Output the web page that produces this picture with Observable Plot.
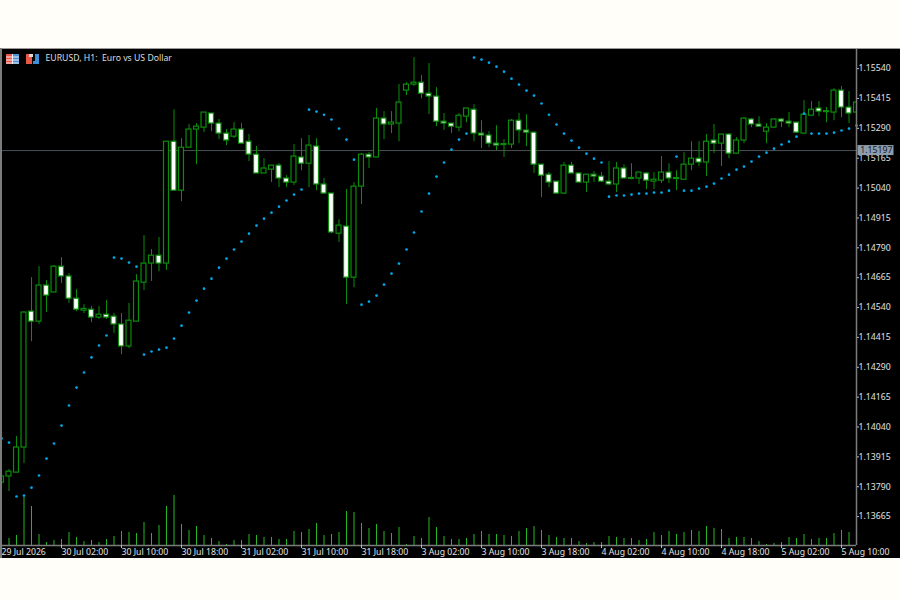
<!DOCTYPE html>
<html>
<head>
<meta charset="utf-8">
<script src="https://cdn.jsdelivr.net/npm/d3@7"></script>
<script src="https://cdn.jsdelivr.net/npm/@observablehq/plot@0.6"></script>
<style>
html,body{margin:0;padding:0;background:#fffef8;}
#wrap{position:absolute;left:0;top:49px;width:900px;height:509px;overflow:hidden;background:#000;}
#wrap svg{display:block;}
.edge{position:absolute;background:#9a9a9a;}
.ic{position:absolute;left:0;top:0;pointer-events:none;}
</style>
</head>
<body>
<div id="wrap"></div>
<div class="edge" style="left:0;top:47.5px;width:900px;height:1.5px"></div>
<div class="edge" style="left:0;top:48px;width:1.5px;height:510px;background:#7c7c7c"></div>
<svg class="ic" width="60" height="70">
  <rect x="6" y="54" width="13" height="10" fill="#e8564a"/><rect x="13" y="54" width="6" height="10" fill="#4a8fd8"/>
  <path d="M6 57h13M6 60h13M6 63h13M12.5 54v10" stroke="#f4eef0" stroke-width="1" fill="none"/>
  <rect x="26" y="54" width="6" height="10" fill="#e8564a"/><rect x="33" y="54" width="6" height="10" fill="#3f8fd8"/>
  <rect x="29" y="54" width="6" height="3" fill="#d9d9d9"/><rect x="33" y="54" width="2" height="7" fill="#000"/>
</svg>
<script>
const tickIndex = [0,8,16,24,32,40,48,56,64,72,80,88,96,104,112];
const tickLabels = ["29 Jul 2026","30 Jul 02:00","30 Jul 10:00","30 Jul 18:00","31 Jul 02:00","31 Jul 10:00","31 Jul 18:00","3 Aug 02:00","3 Aug 10:00","3 Aug 18:00","4 Aug 02:00","4 Aug 10:00","4 Aug 18:00","5 Aug 02:00","5 Aug 10:00"];
const priceTicks = [1.15540,1.15415,1.15290,1.15165,1.15040,1.14915,1.14790,1.14665,1.14540,1.14415,1.14290,1.14165,1.14040,1.13915,1.13790,1.13665];
const lastPrice = 1.15197;

// prices in points (0.00001) above 1.13000
const open = [807,833,849,954,1523,1481,1632,1603,1711,1670,1577,1527,1531,1498,1510,1502,1469,1377,1481,1644,1724,1757,1724,2234,2029,2209,2285,2293,2352,2310,2268,2255,2285,2234,2180,2101,2117,2134,2080,2063,2168,2142,2214,2055,2017,1849,1879,1665,2046,2180,2168,2331,2306,2310,2448,2473,2481,2435,2423,2318,2310,2293,2339,2368,2268,2260,2226,2220,2222,2322,2281,2272,2138,2096,2067,2017,2134,2101,2063,2096,2088,2067,2055,2122,2078,2080,2101,2067,2071,2105,2078,2075,2138,2163,2147,2239,2226,2264,2184,2239,2327,2306,2276,2293,2327,2318,2314,2268,2343,2373,2362,2356,2448,2377,2356];
const high = [841,862,1000,1523,1665,1711,1653,1716,1749,1682,1615,1552,1544,1544,1569,1515,1515,1557,1678,1841,1783,1833,2234,2368,2247,2306,2310,2356,2352,2327,2285,2314,2310,2264,2214,2163,2134,2142,2092,2222,2247,2260,2247,2080,2017,1908,2034,2063,2184,2188,2373,2360,2360,2473,2481,2586,2511,2561,2460,2352,2310,2352,2373,2389,2322,2276,2301,2243,2327,2352,2347,2272,2138,2105,2067,2147,2147,2105,2096,2109,2105,2151,2147,2138,2142,2105,2105,2105,2172,2142,2113,2188,2234,2234,2264,2306,2264,2268,2251,2335,2331,2339,2310,2331,2331,2356,2314,2406,2402,2402,2377,2456,2465,2444,2423];
const low = [766,770,849,887,1397,1469,1519,1603,1640,1557,1523,1515,1477,1490,1490,1431,1343,1368,1481,1611,1649,1690,1695,2029,1983,2209,2138,2272,2276,2243,2218,2247,2226,2151,2101,2101,2063,2042,2042,2050,2113,2042,2029,2013,1849,1812,1552,1623,1971,2122,2168,2243,2268,2234,2427,2465,2414,2347,2297,2281,2268,2276,2314,2234,2205,2209,2197,2168,2205,2226,2214,2101,2000,2042,2013,2013,2101,2063,2021,2063,2063,2050,2021,2080,2075,2055,2034,2034,2059,2059,2029,2075,2113,2130,2088,2184,2130,2163,2184,2226,2293,2297,2226,2293,2293,2293,2268,2268,2343,2339,2314,2322,2335,2310,2335];
const close = [833,853,954,1519,1481,1632,1590,1711,1670,1577,1531,1534,1498,1510,1498,1469,1377,1485,1649,1724,1757,1724,2234,2029,2209,2285,2297,2356,2310,2268,2239,2285,2226,2180,2101,2122,2134,2080,2063,2172,2142,2218,2055,2017,1854,1883,1665,2046,2180,2168,2331,2306,2314,2398,2473,2481,2435,2423,2318,2310,2297,2343,2373,2268,2260,2226,2218,2224,2322,2281,2272,2138,2092,2063,2017,2134,2101,2063,2096,2088,2067,2055,2122,2080,2082,2105,2071,2075,2105,2080,2082,2138,2163,2147,2234,2226,2264,2184,2239,2331,2306,2297,2293,2327,2318,2310,2272,2347,2368,2360,2358,2448,2377,2352,2398];
const sar = [992,975,749,753,786,837,908,971,1046,1130,1205,1268,1331,1381,1423,1749,1745,1728,1711,1343,1356,1364,1372,1410,1464,1519,1569,1619,1661,1707,1745,1783,1816,1849,1883,1912,1937,1962,1988,2013,2034,2368,2360,2347,2327,2289,2243,2159,1552,1565,1590,1636,1682,1724,1783,1854,1942,2017,2088,2147,2201,2243,2268,2586,2578,2565,2548,2527,2498,2473,2448,2427,2394,2347,2306,2268,2239,2209,2184,2163,2147,2004,2009,2009,2013,2017,2017,2021,2021,2029,2172,2029,2029,2038,2046,2059,2080,2096,2117,2130,2151,2172,2188,2205,2222,2234,2255,2352,2268,2268,2268,2272,2281,2289,2301];
// tick volume, estimated
const volume = [300,700,1000,4800,3900,1100,300,500,600,1300,800,400,500,300,600,900,1400,1300,1200,2300,1200,2000,3900,5000,2100,1500,1900,1000,700,400,100,500,500,1100,1000,800,800,600,600,1400,1300,1600,2200,1000,1100,1300,3400,3300,2200,1700,2100,1400,1200,1800,100,900,700,2800,1800,900,600,600,700,1100,1400,1100,1100,1000,900,1400,1700,1900,1500,1000,800,700,700,400,200,300,300,900,800,700,700,500,600,1300,1000,1400,1100,1300,1500,1400,1900,1700,1600,700,800,800,700,400,100,200,300,800,700,1100,600,700,700,1200,1500,1300,1400];

const toPrice = p => 1.13 + p / 1e5;
const bars = open.map((o, i) => ({
  i, o: toPrice(o), h: toPrice(high[i]), l: toPrice(low[i]), c: toPrice(close[i]),
  s: toPrice(sar[i]), v: volume[i], up: close[i] >= o
}));

const yBottom = 1.13544, yTop = 1.15620;
const volToY = v => yBottom + v * 4.185e-7;   // volume strip shares the price axis
const font = "Noto Sans";
const halfBody = 0.33;
const green = "#0b8c0b";

const chart = Plot.plot({
  width: 900, height: 509,
  marginLeft: 1, marginRight: 44, marginTop: 0, marginBottom: 13,
  style: {background: "#000", fontFamily: font},
  x: {domain: [0, 114]},
  y: {domain: [yBottom, yTop]},
  marks: [
    Plot.ruleY([lastPrice], {stroke: "#4a5157", strokeWidth: 1}),
    Plot.ruleX(bars, {x: "i", y1: d => volToY(0), y2: d => volToY(d.v), stroke: "#25b825", strokeWidth: 1, clip: true}),
    Plot.ruleX(bars, {x: "i", y1: "l", y2: "h", stroke: green, strokeWidth: 1, clip: true}),
    Plot.rect(bars, {x1: d => d.i - halfBody, x2: d => d.i + halfBody, y1: "o", y2: "c",
      fill: d => d.up ? "#000" : "#fff", stroke: green, strokeWidth: 1.2, clip: true}),
    Plot.dot(bars, {x: "i", y: "s", r: 1.35, fill: "#00a8e8", stroke: "none"}),
    Plot.ruleX([114], {stroke: "#7c7c7c", strokeWidth: 1.5}),
    Plot.ruleY([yBottom], {stroke: "#7c7c7c", strokeWidth: 1.5}),
    Plot.axisY({anchor: "right", ticks: priceTicks, tickFormat: d => d.toFixed(5), tickSize: 2, tickPadding: 0,
      stroke: "#bbb", fill: "#e2e2e2", fontSize: 8.7, label: null}),
    Plot.axisX({anchor: "bottom", ticks: tickIndex, tickFormat: d => tickLabels[tickIndex.indexOf(d)], tickSize: 3, tickPadding: 0,
      textAnchor: "start", stroke: "#bbb", fill: "#e2e2e2", fontSize: 8.7, label: null}),
    Plot.rect([lastPrice], {x1: 114.2, x2: 119, y1: d => d - 5 * 4.185e-5, y2: d => d + 5 * 4.185e-5, fill: "#8c9dae", clip: false}),
    Plot.text([lastPrice], {x: 114.5, y: d => d, text: d => d.toFixed(5), textAnchor: "start", fill: "#15181c", fontSize: 8.7, clip: false}),
    Plot.text(["EURUSD, H1:\u00a0 Euro vs US Dollar"], {frameAnchor: "top-left", dx: 44, dy: 5, text: d => d, fill: "#dcdcdc", fontSize: 8.7, textAnchor: "start"})
  ]
});
document.getElementById("wrap").appendChild(chart);
</script>
</body>
</html>
